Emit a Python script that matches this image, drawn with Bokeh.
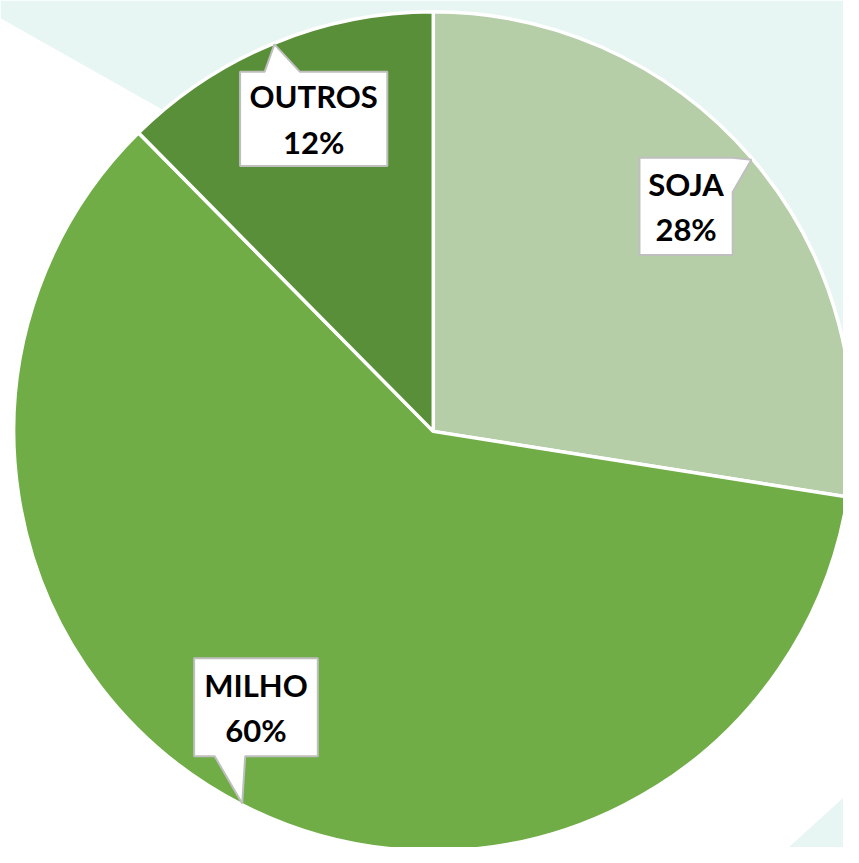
import numpy as np
from bokeh.plotting import figure
from bokeh.models import Range1d
from bokeh.core.properties import value
from bokeh.embed import file_html
from bokeh.resources import INLINE

# ---- data ----
categories = ["SOJA", "MILHO", "OUTROS"]
shares = [27.5, 60.1, 12.4]
pct_labels = ["28%", "60%", "12%"]
colors = ["#B5CEA7", "#70AD47", "#5A8F39"]

# ---- layout (pixel-like coordinates, y up = H - py) ----
W, H = 859, 863
CX, CY = 441, H - 439
R = 427.5
MINT = "#E8F6F3"

p = figure(width=843, height=847, output_backend="svg", toolbar_location=None,
           x_range=Range1d(0, W), y_range=Range1d(0, H),
           min_border=0, background_fill_color="white", border_fill_color="white")
p.axis.visible = False
p.grid.visible = False
p.outline_line_color = None

# background shapes
p.patch([0, W, W, 0], [H, H, H - 503, H - 18], fill_color=MINT, line_color=None)
p.patch([803, W, W], [H - 863, H - 812, H - 863], fill_color=MINT, line_color=None)

# wedges (clockwise from 12 o'clock)
frac = np.array(shares) / np.sum(shares)
ends = np.pi / 2 - 2 * np.pi * np.cumsum(frac)
starts = np.concatenate([[np.pi / 2], ends[:-1]])
p.wedge(x=CX, y=CY, radius=R, start_angle=starts, end_angle=ends, direction="clock",
        fill_color=colors, line_color="white", line_width=3.5)

# callouts: tip at mid-angle on pie edge; box offsets relative to the tip (screen px, y down)
mids = (starts + ends) / 2
callouts = {
    "SOJA": (-114, -19, -2, 97),
    "MILHO": (-49, 77, -148, -48),
    "OUTROS": (-35, 115, 28, 124),
}
font = value("Lato")
for i, name in enumerate(categories):
    tx = CX + R * np.cos(mids[i]) * 0.997
    ty_px = H - (CY + R * np.sin(mids[i]) * 0.997)
    l, r, t, b = callouts[name]
    L, Rr, T, B = tx + l, tx + r, ty_px + t, ty_px + b
    if name == "OUTROS":
        pts = [(L, T), (tx - 10, T), (tx, ty_px), (tx + 26, T), (Rr, T), (Rr, B), (L, B)]
    elif name == "SOJA":
        pts = [(L, T), (Rr, T), (tx, ty_px), (Rr, T + 35), (Rr, B), (L, B)]
    else:
        pts = [(L, T), (Rr, T), (Rr, B), (tx + 3, B), (tx, ty_px), (tx - 28, B), (L, B)]
    xs = [q[0] for q in pts]
    ys = [H - q[1] for q in pts]
    p.patch(xs, ys, fill_color="white", line_color="#BFBFBF", line_width=2)
    cx = (L + Rr) / 2
    cy = (T + B) / 2
    p.text(x=[cx], y=[H - (cy - 23)], text=[name], text_font=font,
           text_font_style="bold", text_font_size="31px", text_align="center",
           text_baseline="middle", text_color="black")
    p.text(x=[cx], y=[H - (cy + 23)], text=[pct_labels[i]], text_font=font,
           text_font_style="bold", text_font_size="31px", text_align="center",
           text_baseline="middle", text_color="black")

open("out.html", "w").write(file_html(p, INLINE))
